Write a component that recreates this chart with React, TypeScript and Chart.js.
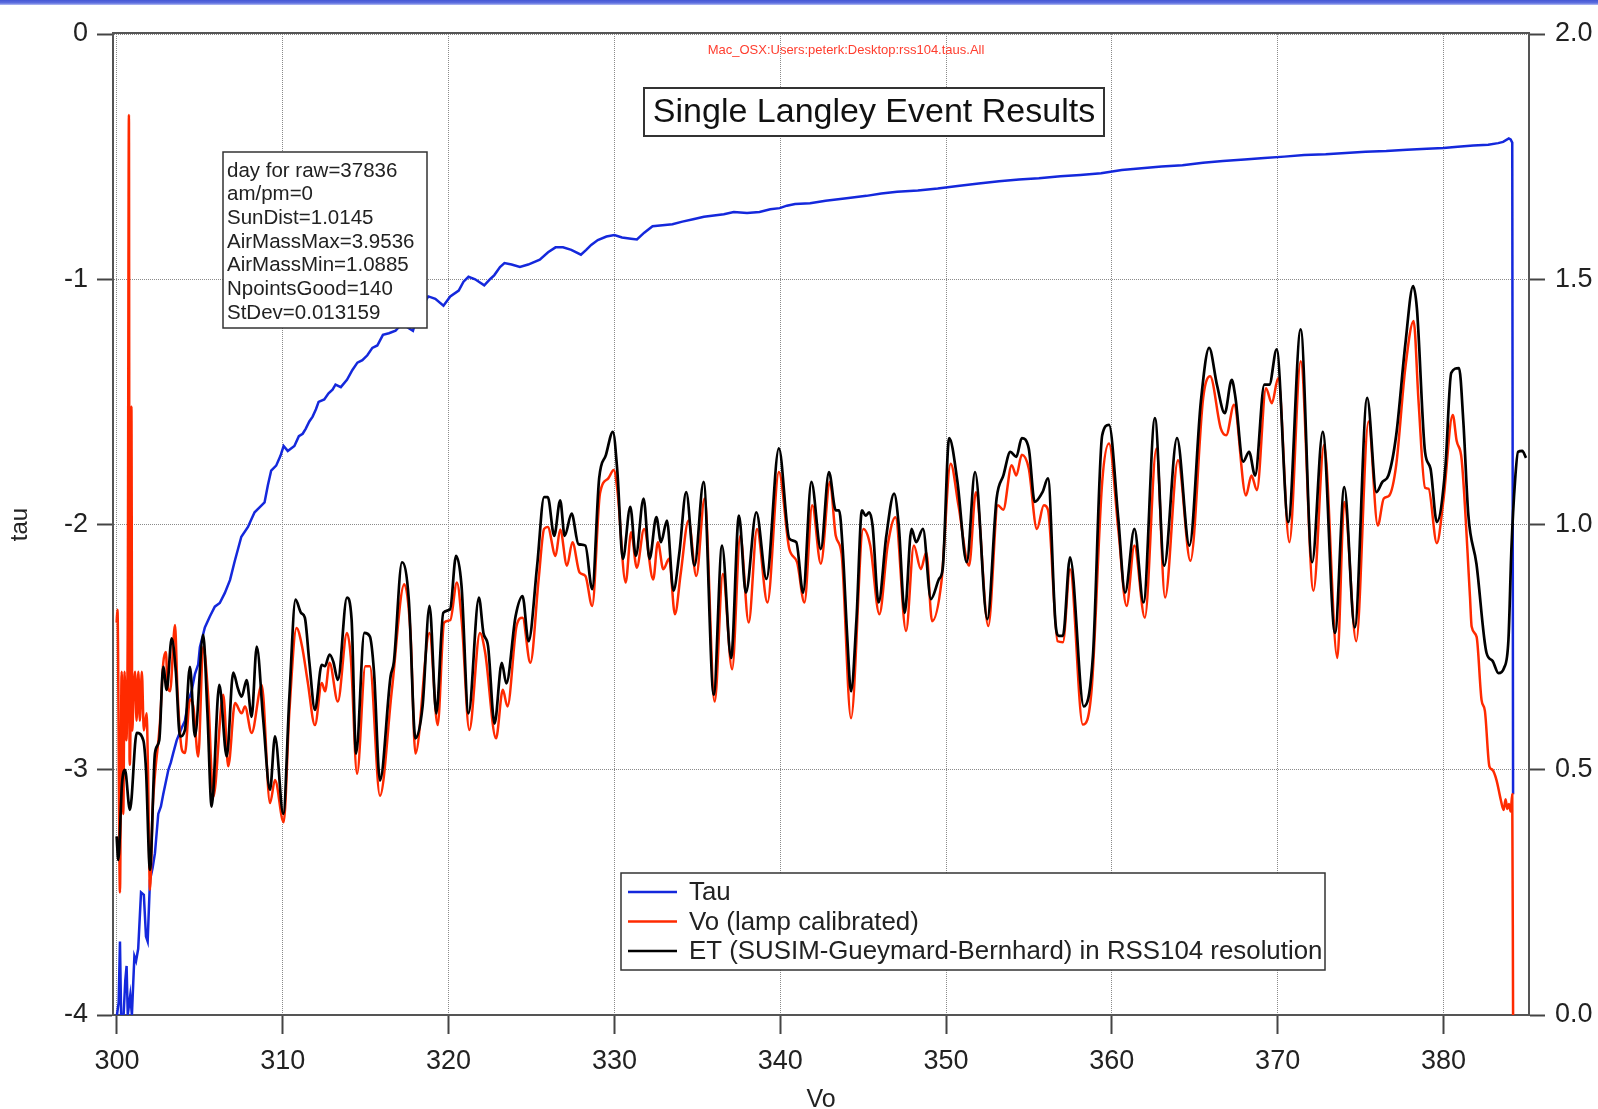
import { useEffect, useRef } from 'react';
import { Chart, registerables } from 'chart.js';

Chart.register(...registerables);

// ---- data -------------------------------------------------------------
// [wavelength (nm), tau] — left axis
const tauSeries: [number, number][] = [
  [300.0, -4.0], [300.1, -3.95], [300.18, -3.7], [300.25, -4.0], [300.4, -4.0], [300.5, -3.86],
  [300.58, -3.8], [300.65, -4.0], [300.8, -3.92], [300.9, -4.0], [300.98, -3.87], [301.05, -3.76],
  [301.15, -3.78], [301.28, -3.73], [301.45, -3.5], [301.62, -3.51], [301.75, -3.68], [301.85, -3.7],
  [301.99, -3.45], [302.15, -3.4], [302.29, -3.34], [302.49, -3.18], [302.65, -3.15], [302.79, -3.1],
  [303.1, -3.0], [303.25, -2.97], [303.4, -2.93], [303.6, -2.88], [303.9, -2.83], [304.1, -2.8],
  [304.3, -2.72], [304.5, -2.68], [304.7, -2.61], [304.9, -2.57], [305.0, -2.5], [305.3, -2.42],
  [305.6, -2.375], [305.9, -2.335], [306.2, -2.32], [306.5, -2.28], [306.82, -2.226], [307.1, -2.15],
  [307.3, -2.1], [307.5, -2.05], [307.9, -2.01], [308.1, -1.98], [308.3, -1.95], [308.6, -1.93],
  [308.9, -1.91], [309.1, -1.84], [309.3, -1.78], [309.6, -1.76], [309.86, -1.72], [310.05, -1.68],
  [310.3, -1.7], [310.7, -1.68], [310.97, -1.64], [311.2, -1.63], [311.38, -1.61], [311.6, -1.58],
  [311.8, -1.56], [312.0, -1.53], [312.16, -1.5], [312.5, -1.49], [312.76, -1.465], [313.0, -1.45],
  [313.18, -1.43], [313.5, -1.44], [313.87, -1.41], [314.2, -1.37], [314.5, -1.34], [314.8, -1.33],
  [315.1, -1.31], [315.4, -1.28], [315.7, -1.27], [316.04, -1.227], [316.4, -1.22], [316.8, -1.21],
  [317.2, -1.18], [317.6, -1.2], [317.85, -1.21], [318.2, -1.13], [318.5, -1.1], [318.78, -1.07],
  [319.2, -1.08], [319.69, -1.108], [320.1, -1.07], [320.61, -1.046], [320.9, -1.01], [321.2, -0.99],
  [321.6, -1.0], [322.15, -1.025], [322.5, -1.0], [322.76, -0.983], [323.1, -0.95], [323.37, -0.934],
  [323.8, -0.94], [324.3, -0.95], [324.8, -0.94], [325.5, -0.92], [326.0, -0.89], [326.45, -0.87],
  [326.9, -0.87], [327.4, -0.88], [327.98, -0.9], [328.3, -0.88], [328.6, -0.86], [329.0, -0.84],
  [329.52, -0.826], [330.0, -0.82], [330.46, -0.83], [331.0, -0.835], [331.36, -0.838], [331.8, -0.81],
  [332.3, -0.784], [332.9, -0.78], [333.5, -0.776], [334.1, -0.765], [334.75, -0.755], [335.4, -0.745],
  [336.0, -0.74], [336.6, -0.735], [337.2, -0.726], [338.0, -0.73], [338.75, -0.726], [339.4, -0.715],
  [339.97, -0.71], [340.4, -0.7], [340.9, -0.693], [341.8, -0.69], [342.74, -0.68], [344.0, -0.67],
  [345.2, -0.66], [346.1, -0.65], [347.05, -0.643], [348.3, -0.638], [349.5, -0.63], [350.7, -0.62],
  [351.97, -0.61], [353.2, -0.6], [354.4, -0.593], [355.6, -0.588], [356.9, -0.58], [358.1, -0.575],
  [359.35, -0.568], [360.6, -0.555], [361.8, -0.547], [363.0, -0.54], [364.26, -0.535], [365.5, -0.525],
  [366.7, -0.518], [368.0, -0.512], [369.2, -0.506], [370.4, -0.5], [371.6, -0.493], [372.9, -0.49],
  [374.1, -0.485], [375.3, -0.48], [376.55, -0.477], [377.8, -0.472], [379.0, -0.468], [380.0, -0.465],
  [380.86, -0.46], [381.8, -0.455], [382.7, -0.452], [383.3, -0.445], [383.6, -0.44], [383.94, -0.426],
  [384.05, -0.43], [384.15, -0.443], [384.2, -3.1],
];

// [wavelength (nm), Vo] — lamp calibrated, right axis
const voSeries: [number, number][] = [
  [299.98, 0.8], [300.03, 0.826], [300.18, 0.25], [300.28, 0.7], [300.38, 0.41], [300.46, 0.7],
  [300.55, 0.56], [300.65, 0.8], [300.72, 1.835], [300.76, 0.51], [300.82, 0.62], [300.87, 1.24],
  [300.92, 0.58], [301.0, 0.65], [301.09, 0.7], [301.18, 0.6], [301.29, 0.7], [301.38, 0.6],
  [301.5, 0.7], [301.62, 0.58], [301.79, 0.615], [301.87, 0.5], [301.99, 0.255], [302.15, 0.42],
  [302.29, 0.49], [302.59, 0.595], [302.79, 0.717], [302.95, 0.74], [303.05, 0.67], [303.2, 0.66],
  [303.5, 0.795], [303.65, 0.66], [303.92, 0.54], [304.1, 0.534], [304.4, 0.643], [304.6, 0.63],
  [304.9, 0.527], [305.2, 0.751], [305.5, 0.65], [305.81, 0.445], [306.41, 0.653], [306.71, 0.507],
  [307.12, 0.636], [307.52, 0.615], [307.72, 0.629], [308.12, 0.575], [308.73, 0.673], [309.23, 0.432],
  [309.53, 0.479], [310.05, 0.393], [310.4, 0.62], [310.83, 0.789], [311.16, 0.752], [311.5, 0.68],
  [311.94, 0.591], [312.35, 0.677], [312.55, 0.66], [312.82, 0.718], [313.32, 0.639], [313.87, 0.779],
  [314.1, 0.73], [314.48, 0.492], [314.98, 0.711], [315.25, 0.711], [315.86, 0.447], [316.58, 0.663],
  [317.33, 0.878], [317.7, 0.78], [318.0, 0.533], [318.85, 0.779], [319.34, 0.591], [319.73, 0.8],
  [320.1, 0.805], [320.5, 0.882], [320.8, 0.8], [321.25, 0.581], [321.89, 0.779], [322.2, 0.74],
  [322.86, 0.564], [323.27, 0.663], [323.55, 0.629], [324.1, 0.793], [324.46, 0.81], [324.93, 0.718],
  [325.43, 0.888], [325.76, 0.991], [325.98, 0.995], [326.45, 0.936], [326.73, 0.99], [327.14, 0.916],
  [327.47, 0.964], [327.9, 0.902], [328.25, 0.895], [328.66, 0.834], [329.13, 1.063], [329.63, 1.094],
  [329.96, 1.111], [330.18, 1.07], [330.68, 0.882], [331.01, 0.984], [331.35, 0.912], [331.79, 0.991],
  [332.34, 0.888], [332.62, 0.964], [332.95, 0.909], [333.3, 0.93], [333.65, 0.817], [334.0, 0.9],
  [334.47, 1.008], [334.94, 0.895], [335.44, 1.053], [336.05, 0.639], [336.54, 0.899], [337.1, 0.705],
  [337.59, 0.977], [338.1, 0.8], [338.6, 0.991], [339.23, 0.841], [339.92, 1.107], [340.55, 0.95],
  [341.02, 0.923], [341.46, 0.841], [341.93, 1.039], [342.45, 0.92], [343.0, 1.087], [343.35, 0.977],
  [343.7, 0.94], [344.27, 0.605], [345.01, 0.991], [345.43, 0.957], [345.98, 0.817], [346.48, 0.957],
  [346.95, 1.015], [347.59, 0.783], [348.06, 0.957], [348.48, 0.909], [348.81, 0.943], [349.16, 0.803],
  [349.72, 0.882], [350.28, 1.124], [350.75, 1.039], [351.39, 0.916], [351.8, 1.066], [352.55, 0.793],
  [353.13, 1.039], [353.45, 1.03], [353.96, 1.121], [354.24, 1.1], [354.57, 1.142], [354.99, 1.114],
  [355.48, 0.991], [355.9, 1.039], [356.15, 1.03], [356.73, 0.762], [357.05, 0.76], [357.48, 0.909],
  [358.25, 0.592], [358.78, 0.663], [359.42, 1.087], [359.83, 1.165], [360.39, 0.99], [360.89, 0.834],
  [361.36, 0.957], [361.99, 0.81], [362.69, 1.155], [363.21, 0.851], [363.99, 1.131], [364.74, 0.926],
  [365.51, 1.258], [365.93, 1.302], [366.57, 1.196], [366.9, 1.182], [367.37, 1.244], [368.09, 1.059],
  [368.42, 1.1], [368.75, 1.07], [369.3, 1.278], [369.65, 1.247], [370.03, 1.298], [370.71, 0.964],
  [371.39, 1.333], [372.16, 0.865], [372.8, 1.162], [373.6, 0.728], [374.02, 1.046], [374.74, 0.762],
  [375.48, 1.21], [376.04, 0.998], [376.4, 1.053], [376.73, 1.059], [377.15, 1.121], [377.7, 1.319],
  [378.2, 1.415], [378.5, 1.25], [378.89, 1.075], [379.1, 1.073], [379.6, 0.962], [380.0, 1.05],
  [380.56, 1.223], [380.8, 1.17], [381.1, 1.132], [381.6, 0.853], [381.7, 0.792], [382.0, 0.771],
  [382.3, 0.642], [382.5, 0.62], [382.77, 0.507], [382.95, 0.5], [383.2, 0.479], [383.45, 0.44],
  [383.63, 0.418], [383.75, 0.44], [383.85, 0.42], [383.95, 0.43], [384.05, 0.415], [384.15, 0.45],
  [384.2, 0.0],
];

// [wavelength (nm), ET] — SUSIM-Gueymard-Bernhard at RSS104 resolution, right axis
const etSeries: [number, number][] = [
  [299.98, 0.364], [300.08, 0.316], [300.3, 0.47], [300.48, 0.5], [300.78, 0.418], [301.19, 0.575],
  [301.59, 0.56], [301.75, 0.5], [301.99, 0.296], [302.29, 0.534], [302.55, 0.56], [302.79, 0.71],
  [303.0, 0.663], [303.3, 0.768], [303.55, 0.7], [303.8, 0.568], [304.1, 0.581], [304.4, 0.71],
  [304.7, 0.568], [305.2, 0.775], [305.45, 0.62], [305.71, 0.425], [306.17, 0.673], [306.62, 0.527],
  [307.01, 0.698], [307.3, 0.665], [307.52, 0.649], [307.82, 0.683], [308.12, 0.608], [308.43, 0.751],
  [308.82, 0.602], [309.23, 0.459], [309.53, 0.568], [310.03, 0.41], [310.4, 0.65], [310.77, 0.847],
  [311.1, 0.82], [311.33, 0.81], [311.6, 0.72], [311.94, 0.622], [312.35, 0.714], [312.54, 0.711],
  [312.82, 0.735], [313.05, 0.72], [313.32, 0.683], [313.87, 0.851], [314.15, 0.806], [314.42, 0.533],
  [314.92, 0.779], [315.25, 0.772], [315.5, 0.7], [315.86, 0.478], [316.5, 0.69], [316.7, 0.72],
  [317.19, 0.923], [317.6, 0.847], [318.0, 0.564], [318.43, 0.629], [318.85, 0.834], [319.26, 0.615],
  [319.68, 0.82], [320.09, 0.827], [320.45, 0.936], [320.78, 0.875], [321.2, 0.615], [321.83, 0.851],
  [322.1, 0.779], [322.38, 0.752], [322.77, 0.594], [323.21, 0.718], [323.48, 0.676], [324.04, 0.813],
  [324.46, 0.854], [324.82, 0.762], [325.34, 0.916], [325.76, 1.056], [325.98, 1.056], [326.37, 0.977],
  [326.73, 1.049], [327.0, 0.977], [327.42, 1.022], [327.83, 0.96], [328.25, 0.957], [328.66, 0.868],
  [329.08, 1.094], [329.49, 1.142], [329.91, 1.189], [330.18, 1.107], [330.51, 0.93], [330.96, 1.036],
  [331.29, 0.936], [331.76, 1.053], [332.12, 0.93], [332.53, 1.015], [332.81, 0.964], [333.17, 1.008],
  [333.56, 0.865], [333.92, 0.943], [334.33, 1.066], [334.83, 0.916], [335.38, 1.087], [335.99, 0.653],
  [336.49, 0.957], [337.04, 0.728], [337.51, 1.018], [337.93, 0.861], [338.56, 1.025], [339.17, 0.889],
  [339.92, 1.155], [340.55, 0.971], [340.97, 0.964], [341.38, 0.861], [341.88, 1.087], [342.45, 0.95],
  [342.94, 1.107], [343.35, 1.029], [343.55, 1.029], [343.77, 0.95], [344.04, 0.772], [344.27, 0.66],
  [344.6, 0.807], [344.93, 1.029], [345.15, 1.018], [345.37, 1.025], [345.57, 0.998], [345.93, 0.841],
  [346.4, 0.977], [346.87, 1.063], [347.15, 0.998], [347.51, 0.82], [347.92, 0.991], [348.2, 0.964],
  [348.61, 0.991], [349.09, 0.848], [349.58, 0.889], [349.8, 0.91], [350.19, 1.176], [350.69, 1.087],
  [351.25, 0.923], [351.75, 1.107], [352.49, 0.807], [353.05, 1.053], [353.46, 1.1], [353.88, 1.148],
  [354.24, 1.138], [354.57, 1.176], [354.99, 1.155], [355.35, 1.046], [355.82, 1.066], [356.15, 1.094],
  [356.6, 0.8], [356.79, 0.773], [357.05, 0.773], [357.48, 0.933], [358.31, 0.629], [358.86, 0.732],
  [359.42, 1.182], [359.83, 1.203], [360.39, 1.012], [360.8, 0.861], [361.36, 0.991], [361.91, 0.841],
  [362.6, 1.217], [363.16, 0.916], [363.93, 1.176], [364.68, 0.957], [365.37, 1.251], [365.87, 1.36],
  [366.34, 1.285], [366.81, 1.227], [367.23, 1.295], [367.45, 1.26], [367.92, 1.128], [368.28, 1.148],
  [368.64, 1.1], [369.2, 1.285], [369.5, 1.285], [369.94, 1.357], [370.64, 1.005], [371.39, 1.398],
  [372.08, 0.923], [372.72, 1.189], [373.46, 0.779], [374.02, 1.076], [374.65, 0.79], [375.4, 1.258],
  [375.96, 1.066], [376.32, 1.087], [376.68, 1.1], [377.15, 1.182], [377.7, 1.367], [378.17, 1.486],
  [378.4, 1.44], [378.89, 1.148], [379.22, 1.114], [379.6, 1.005], [380.11, 1.114], [380.47, 1.309],
  [380.94, 1.319], [381.2, 1.21], [381.5, 1.02], [381.99, 0.92], [382.6, 0.738], [382.96, 0.722],
  [383.32, 0.697], [383.66, 0.708], [383.92, 0.765], [384.1, 0.95], [384.32, 1.09], [384.5, 1.148],
  [384.75, 1.15], [384.98, 1.136],
];

const xTickValues = [300, 310, 320, 330, 340, 350, 360, 370, 380];
const tauTickValues = [-4, -3, -2, -1, 0];
const voTickValues = [0, 0.5, 1.0, 1.5, 2.0];

const infoLines = [
  'day for raw=37836',
  'am/pm=0',
  'SunDist=1.0145',
  'AirMassMax=3.9536',
  'AirMassMin=1.0885',
  'NpointsGood=140',
  'StDev=0.013159',
];

const chartTitle = 'Single Langley Event Results';
const sourcePath = 'Mac_OSX:Users:peterk:Desktop:rss104.taus.All';

// ---- styling ----------------------------------------------------------
const FONT = '"Liberation Sans", Arial, sans-serif';
const TEXT = '#222222';
const FRAME = '#555555';
const BLUE = '#1428dc';
const RED = '#ff2a00';
const BLACK = '#000000';

const legendItems = [
  { label: 'Tau', color: BLUE },
  { label: 'Vo (lamp calibrated)', color: RED },
  { label: 'ET (SUSIM-Gueymard-Bernhard) in RSS104 resolution', color: BLACK },
];

const toPoints = (s: [number, number][]) => s.map(([x, y]) => ({ x, y }));

// Boxed annotations, placed relative to the plot area
const annotationPlugin = {
  id: 'langleyAnnotations',
  afterDraw(chart: any) {
    const { ctx } = chart;
    const { left, right, top } = chart.chartArea;
    ctx.save();

    // top edge of the plot frame
    ctx.strokeStyle = FRAME;
    ctx.lineWidth = 2;
    ctx.beginPath();
    ctx.moveTo(left - 1, top - 1);
    ctx.lineTo(right + 1, top - 1);
    ctx.stroke();

    // source file path
    ctx.fillStyle = '#ff3d2e';
    ctx.font = `13px ${FONT}`;
    ctx.textAlign = 'center';
    ctx.textBaseline = 'middle';
    ctx.fillText(sourcePath, left + 733, top + 16);

    // title box
    const tb = { x: left + 531, y: top + 54, w: 460, h: 48 };
    ctx.fillStyle = '#ffffff';
    ctx.fillRect(tb.x, tb.y, tb.w, tb.h);
    ctx.strokeStyle = '#333333';
    ctx.lineWidth = 2;
    ctx.strokeRect(tb.x, tb.y, tb.w, tb.h);
    ctx.fillStyle = '#111111';
    ctx.font = `34px ${FONT}`;
    ctx.textAlign = 'center';
    ctx.textBaseline = 'middle';
    ctx.fillText(chartTitle, tb.x + tb.w / 2, tb.y + tb.h / 2 + 1);

    // info box
    const ib = { x: left + 110, y: top + 118, w: 204, h: 176 };
    ctx.fillStyle = '#ffffff';
    ctx.fillRect(ib.x, ib.y, ib.w, ib.h);
    ctx.strokeStyle = '#333333';
    ctx.lineWidth = 1.5;
    ctx.strokeRect(ib.x, ib.y, ib.w, ib.h);
    ctx.fillStyle = TEXT;
    ctx.font = `20.5px ${FONT}`;
    ctx.textAlign = 'left';
    ctx.textBaseline = 'middle';
    infoLines.forEach((line, i) => {
      ctx.fillText(line, ib.x + 4, ib.y + 19 + i * 23.7);
    });

    // legend box
    const lb = { x: left + 508, y: top + 839, w: 704, h: 97 };
    ctx.fillStyle = '#ffffff';
    ctx.fillRect(lb.x, lb.y, lb.w, lb.h);
    ctx.strokeStyle = '#333333';
    ctx.lineWidth = 1.5;
    ctx.strokeRect(lb.x, lb.y, lb.w, lb.h);
    ctx.font = `25.85px ${FONT}`;
    ctx.textAlign = 'left';
    ctx.textBaseline = 'middle';
    legendItems.forEach((item, i) => {
      const cy = lb.y + 19 + i * 29.5;
      ctx.strokeStyle = item.color;
      ctx.lineWidth = 2.5;
      ctx.beginPath();
      ctx.moveTo(lb.x + 7, cy);
      ctx.lineTo(lb.x + 56, cy);
      ctx.stroke();
      ctx.fillStyle = TEXT;
      ctx.fillText(item.label, lb.x + 68, cy + 1);
    });

    ctx.restore();
  },
};

export default function App() {
  const canvasRef = useRef<HTMLCanvasElement | null>(null);

  useEffect(() => {
    const canvas = canvasRef.current;
    if (!canvas) return;

    const tickFont = { family: FONT, size: 27 };
    const gridBorder = { display: true, color: FRAME, width: 2, dash: [1, 1] };

    const chart = new Chart(canvas, {
      type: 'line',
      data: {
        datasets: [
          {
            label: 'Tau',
            data: toPoints(tauSeries),
            yAxisID: 'y',
            borderColor: BLUE,
            borderWidth: 2.5,
            pointRadius: 0,
            tension: 0,
            order: 2,
          },
          {
            label: 'Vo (lamp calibrated)',
            data: toPoints(voSeries),
            yAxisID: 'y1',
            borderColor: RED,
            borderWidth: 2.5,
            pointRadius: 0,
            cubicInterpolationMode: 'monotone',
            order: 1,
          },
          {
            label: 'ET (SUSIM-Gueymard-Bernhard) in RSS104 resolution',
            data: toPoints(etSeries),
            yAxisID: 'y1',
            borderColor: BLACK,
            borderWidth: 2.7,
            pointRadius: 0,
            cubicInterpolationMode: 'monotone',
            order: 0,
          },
        ],
      },
      options: {
        responsive: false,
        maintainAspectRatio: false,
        animation: false,
        devicePixelRatio: 1,
        events: [],
        layout: { padding: { top: 34, left: 0, right: 0, bottom: 0 } },
        plugins: {
          legend: { display: false },
          tooltip: { enabled: false },
          title: { display: false },
        },
        scales: {
          x: {
            type: 'linear',
            position: 'bottom',
            min: 299.76,
            max: 385.16,
            afterBuildTicks: (scale: any) => {
              scale.ticks = xTickValues.map((v) => ({ value: v }));
            },
            afterFit: (scale: any) => {
              scale.height = 94;
            },
            ticks: {
              font: tickFont,
              color: TEXT,
              padding: 11,
              maxRotation: 0,
              autoSkip: false,
              callback: (v: any) => String(v),
            },
            grid: {
              color: '#8a8a8a',
              lineWidth: 1,
              drawTicks: true,
              tickLength: 19,
              tickColor: '#444444',
              tickWidth: 2,
            },
            border: gridBorder,
            title: {
              display: true,
              text: 'Vo',
              color: TEXT,
              font: { family: FONT, size: 25, lineHeight: 0.75 },
              padding: { top: 0, bottom: 0 },
            },
          },
          y: {
            type: 'linear',
            position: 'left',
            min: -4,
            max: 0,
            afterBuildTicks: (scale: any) => {
              scale.ticks = tauTickValues.map((v) => ({ value: v }));
            },
            afterFit: (scale: any) => {
              scale.width = 113;
            },
            ticks: {
              font: tickFont,
              color: TEXT,
              padding: 9,
              autoSkip: false,
              callback: (v: any) => String(v),
            },
            grid: {
              color: '#8a8a8a',
              lineWidth: 1,
              drawTicks: true,
              tickLength: 16,
              tickColor: '#444444',
              tickWidth: 2,
            },
            border: gridBorder,
            title: {
              display: true,
              text: 'tau',
              color: TEXT,
              font: { family: FONT, size: 24, lineHeight: 1 },
              padding: { top: 8, bottom: 0 },
            },
          },
          y1: {
            type: 'linear',
            position: 'right',
            min: 0,
            max: 2,
            afterBuildTicks: (scale: any) => {
              scale.ticks = voTickValues.map((v) => ({ value: v }));
            },
            afterFit: (scale: any) => {
              scale.width = 69;
            },
            ticks: {
              font: tickFont,
              color: TEXT,
              padding: 10,
              autoSkip: false,
              callback: (v: any) => Number(v).toFixed(1),
            },
            grid: {
              drawOnChartArea: false,
              drawTicks: true,
              tickLength: 16,
              tickColor: '#444444',
              tickWidth: 2,
            },
            border: { display: true, color: FRAME, width: 2 },
          },
        },
      },
      plugins: [annotationPlugin],
    } as any);

    return () => chart.destroy();
  }, []);

  return (
    <div
      style={{
        position: 'absolute',
        left: 0,
        top: 0,
        width: 1598,
        height: 1109,
        background: '#ffffff',
        overflow: 'hidden',
      }}
    >
      <div
        style={{
          position: 'absolute',
          left: 0,
          top: 0,
          width: 1598,
          height: 5,
          background:
            'linear-gradient(to bottom, #4456d4 0%, #5f70e0 60%, #b8c0f2 100%)',
        }}
      />
      <canvas
        ref={canvasRef}
        width={1598}
        height={1109}
        style={{ display: 'block', width: 1598, height: 1109 }}
      />
    </div>
  );
}
